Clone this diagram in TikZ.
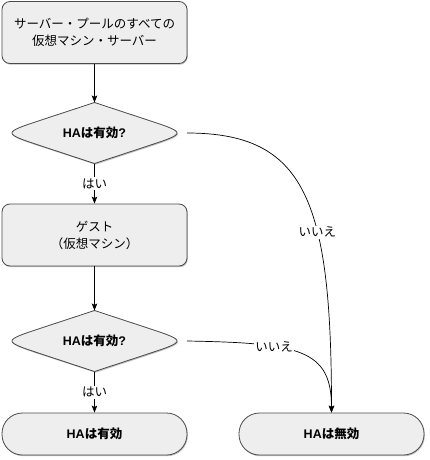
\documentclass[tikz,border=0pt]{standalone}
\usepackage{fontspec}
\setmainfont{Noto Sans CJK JP}
\newfontfamily\latinfont{Liberation Sans}
\usepackage{tikz}
\usetikzlibrary{arrows.meta,shadows,backgrounds}
\usepackage{xcolor}
\definecolor{boxfill}{HTML}{EEEEEE}
\definecolor{boxline}{HTML}{4A4A4A}

\begin{document}
\begin{tikzpicture}[x=1pt, y=-1pt, >={Stealth[length=7pt,width=5.5pt,inset=1.5pt]},
    softshadow/.style={drop shadow={shadow xshift=0.8pt, shadow yshift=-1.2pt, opacity=0.25, fill=black}},
    outline/.style={draw=boxline, line width=0.8pt, fill=boxfill, softshadow},
    stepbox/.style={outline, rounded corners=8pt,
        minimum width=185pt, minimum height=62pt, align=center, font=\fontsize{12.5}{17}\selectfont},
    decision/.style={rectangle, minimum width=185pt, minimum height=61pt, inner sep=0pt, outer sep=0pt,
        font=\fontsize{12.5}{15}\selectfont},
    terminal/.style={outline, rounded corners=20.5pt,
        minimum width=185pt, minimum height=42pt, font=\fontsize{12.5}{15}\selectfont},
    flow/.style={->, line width=0.7pt, black},
    lbl/.style={fill=white, inner sep=1.5pt, font=\fontsize{12.5}{15}\selectfont}]

% Define horizontal positions
\def\leftcol{94.5}
\def\rightcol{331.5}

% Define vertical positions
\def\rowserver{32.5}
\def\rowcheckA{133}
\def\rowguest{235}
\def\rowcheckB{341}
\def\rowend{434}

% Tip rounding of the decision outline
\def\tipx{39.9}
\def\tipy{13.2}

\useasboundingbox (0,0) rectangle (429,460);

% Main column
\node[stepbox] (servers) at (\leftcol, \rowserver) {サーバー・プールのすべての\\仮想マシン・サーバー};
\node[decision] (checkA) at (\leftcol, \rowcheckA) {{\latinfont\bfseries HA}\textbf{は有効}{\latinfont\bfseries ?}};
\node[stepbox] (guest) at (\leftcol, \rowguest) {ゲスト\\（仮想マシン）};
\node[decision] (checkB) at (\leftcol, \rowcheckB) {{\latinfont\bfseries HA}\textbf{は有効}{\latinfont\bfseries ?}};

% Decision outlines with rounded side tips
\begin{scope}[on background layer]
\foreach \d in {checkA, checkB} {
    \path[outline] (\d.north)
        -- ([shift={(\tipx,-\tipy)}]\d.west) .. controls (\d.west) .. ([shift={(\tipx,\tipy)}]\d.west)
        -- (\d.south)
        -- ([shift={(-\tipx,\tipy)}]\d.east) .. controls (\d.east) .. ([shift={(-\tipx,-\tipy)}]\d.east)
        -- cycle;
}
\end{scope}

% End states
\node[terminal] (haon) at (\leftcol, \rowend) {{\latinfont\bfseries HA}\textbf{は有効}};
\node[terminal] (haoff) at (\rightcol, \rowend) {{\latinfont\bfseries HA}\textbf{は無効}};

% Yes branches
\draw[flow] (servers.south) -- (checkA.north);
\draw[flow] (checkA.south) -- node[lbl] {はい} (guest.north);
\draw[flow] (guest.south) -- (checkB.north);
\draw[flow] (checkB.south) -- node[lbl] {はい} (haon.north);

% No branches
\draw[flow] (checkA.east) .. controls +(118,0) and +(0,-213) .. node[lbl, pos=0.63] {いいえ} (haoff.north);
\draw[flow] (checkB.east) .. controls +(113,2) and +(0,-63) .. node[lbl, pos=0.33] {いいえ} (haoff.north);

\end{tikzpicture}
\end{document}
